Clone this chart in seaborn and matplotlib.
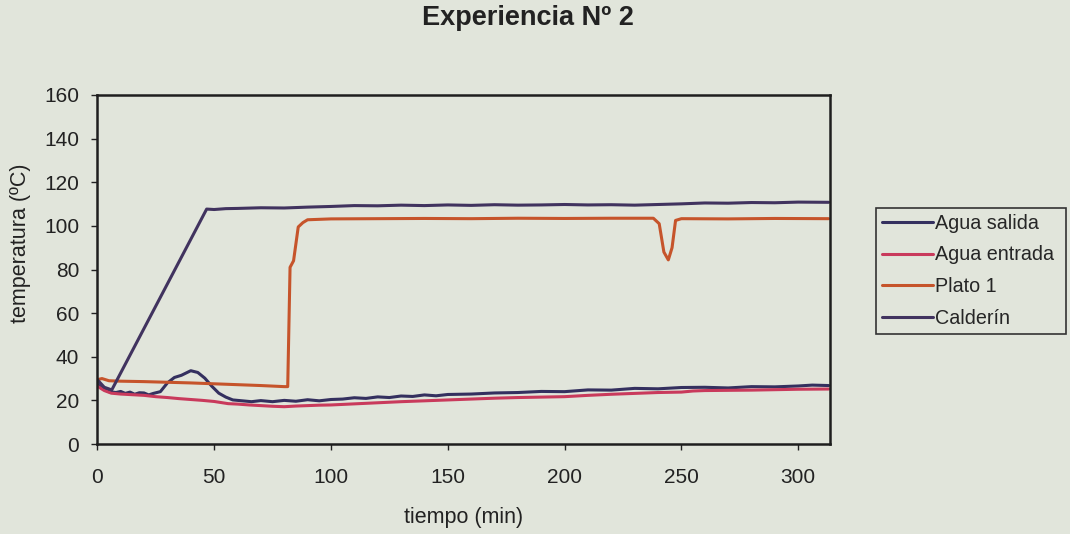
import numpy as np
import pandas as pd
import matplotlib
matplotlib.use("Agg")
import matplotlib.pyplot as plt
import seaborn as sns

# ---- data ----
series_names = ["Agua salida", "Agua entrada", "Plato 1", "Calderín"]

t_salida = [0, 2, 5, 8, 10, 12, 14, 16, 18, 20, 22, 24, 27, 30, 33, 36, 40, 43, 46, 49, 52, 55,
            58, 62, 66, 70, 75, 80, 85, 90, 95, 100, 105, 110, 115, 120, 125, 130, 135, 140,
            145, 150, 160, 170, 180, 190, 200, 210, 220, 230, 240, 250, 260, 270, 280, 290,
            300, 306, 313]
v_salida = [27.5, 25.5, 24.0, 23.6, 24.1, 23.2, 23.8, 22.8, 23.5, 23.4, 22.5, 23.2, 24.0, 28.0,
            30.5, 31.5, 33.6, 32.8, 30.2, 26.5, 23.3, 21.5, 20.2, 19.8, 19.4, 19.9, 19.4, 20.0,
            19.6, 20.3, 19.8, 20.4, 20.6, 21.2, 20.9, 21.6, 21.3, 22.0, 21.8, 22.5, 22.1, 22.7,
            22.9, 23.4, 23.6, 24.1, 24.0, 24.8, 24.7, 25.5, 25.3, 25.9, 26.0, 25.7, 26.3, 26.2,
            26.6, 27.0, 26.8]

t_entrada = [0, 3, 6, 10, 15, 20, 25, 30, 35, 40, 45, 50, 56, 60, 65, 70, 75, 80, 85, 90, 95,
             100, 110, 120, 130, 140, 150, 160, 170, 180, 190, 200, 210, 220, 230, 240, 250,
             255, 260, 270, 280, 290, 300, 313]
v_entrada = [26.5, 24.5, 23.3, 22.9, 22.6, 22.3, 21.7, 21.3, 20.8, 20.4, 20.0, 19.5, 18.5, 18.3,
             17.9, 17.6, 17.3, 17.1, 17.4, 17.6, 17.8, 17.9, 18.4, 18.9, 19.4, 19.8, 20.2, 20.6,
             21.0, 21.3, 21.5, 21.7, 22.3, 22.8, 23.2, 23.6, 23.8, 24.3, 24.5, 24.6, 24.7, 24.9,
             25.1, 25.2]

t_plato = [0, 2, 5, 10, 20, 30, 40, 50, 60, 70, 80, 81.5, 82.5, 84, 86, 88, 90, 95, 100, 120,
           140, 160, 180, 200, 220, 238, 240.5, 242.5, 244.4, 246, 247.5, 250, 270, 290, 313]
v_plato = [29.5, 30.0, 29.0, 28.8, 28.6, 28.3, 28.0, 27.6, 27.2, 26.8, 26.3, 26.3, 81.0, 84.0,
           99.5, 101.5, 102.8, 103.0, 103.2, 103.3, 103.4, 103.3, 103.5, 103.4, 103.5, 103.5,
           101.0, 88.0, 84.4, 90.0, 102.5, 103.3, 103.2, 103.4, 103.3]

t_calderin = [0, 3, 6.2, 46.8, 50, 55, 60, 70, 80, 90, 100, 110, 120, 130, 140, 150, 160, 170,
              180, 190, 200, 210, 220, 230, 240, 250, 260, 270, 280, 290, 300, 313]
v_calderin = [29.5, 26.0, 24.8, 107.7, 107.5, 107.9, 108.0, 108.3, 108.2, 108.6, 108.9, 109.3,
              109.2, 109.5, 109.3, 109.6, 109.4, 109.7, 109.5, 109.6, 109.8, 109.6, 109.7, 109.5,
              109.8, 110.1, 110.5, 110.4, 110.7, 110.6, 110.9, 110.8]

y_ticks = [0, 20, 40, 60, 80, 100, 120, 140, 160]
x_ticks = [0, 50, 100, 150, 200, 250, 300]

colors = {"Agua salida": "#34305f", "Agua entrada": "#c93a5c",
          "Plato 1": "#c6542b", "Calderín": "#41335f"}

frames = []
for name, t, v in [("Agua salida", t_salida, v_salida), ("Agua entrada", t_entrada, v_entrada),
                   ("Plato 1", t_plato, v_plato), ("Calderín", t_calderin, v_calderin)]:
    frames.append(pd.DataFrame({"tiempo": t, "temp": v, "serie": name}))
df = pd.concat(frames, ignore_index=True)

# ---- style ----
sns.set_theme(style="ticks")
bg = "#e1e5db"
plt.rcParams["font.family"] = ["Liberation Sans", "DejaVu Sans"]

fig = plt.figure(figsize=(10.7, 5.34), dpi=100, facecolor=bg)
ax = fig.add_axes([97.3 / 1070, 1 - 444 / 534, (830 - 97.3) / 1070, (444 - 95) / 534])
ax.set_facecolor(bg)

sns.lineplot(data=df, x="tiempo", y="temp", hue="serie", hue_order=series_names,
             palette=colors, estimator=None, sort=False, linewidth=2.2, ax=ax, legend=True)

ax.set_xlim(0, 313.6)
ax.set_ylim(0, 160)
ax.set_xticks(x_ticks)
ax.set_yticks(y_ticks)
ax.tick_params(axis="both", labelsize=15, colors="#222222", length=4, width=1, direction="out")
ax.tick_params(axis="x", pad=13)
ax.tick_params(axis="y", pad=9)
for s in ax.spines.values():
    s.set_color("#1e1e1e")
    s.set_linewidth(1.8)

ax.set_xlabel("tiempo (min)", fontsize=15.5, color="#222222")
ax.set_ylabel("temperatura (ºC)", fontsize=15.5, color="#222222")
ax.xaxis.set_label_coords(0.5, -0.18)
ax.yaxis.set_label_coords(-0.09, 0.576)

fig.text(528 / 1070, 1 - 18 / 534, "Experiencia Nº 2", ha="center", va="center",
         fontsize=19.5, fontweight="bold", color="#222222")

handles, labels = ax.get_legend_handles_labels()
leg = ax.legend(handles, labels, loc="center left",
                bbox_to_anchor=(876 / 1070, 1 - 336.7 / 534, (1066 - 876) / 1070, (336.7 - 205) / 534),
                bbox_transform=fig.transFigure, mode="expand", frameon=True, fancybox=False,
                fontsize=14.2, handlelength=2.6, handletextpad=0.1, labelspacing=0.65,
                borderaxespad=0, borderpad=0.3, facecolor=bg, edgecolor="#333333")
leg.get_frame().set_linewidth(1.2)
leg.get_frame().set_alpha(1)
for line in leg.get_lines():
    line.set_linewidth(2.2)

fig.savefig("out.png", dpi=100, facecolor=bg)
